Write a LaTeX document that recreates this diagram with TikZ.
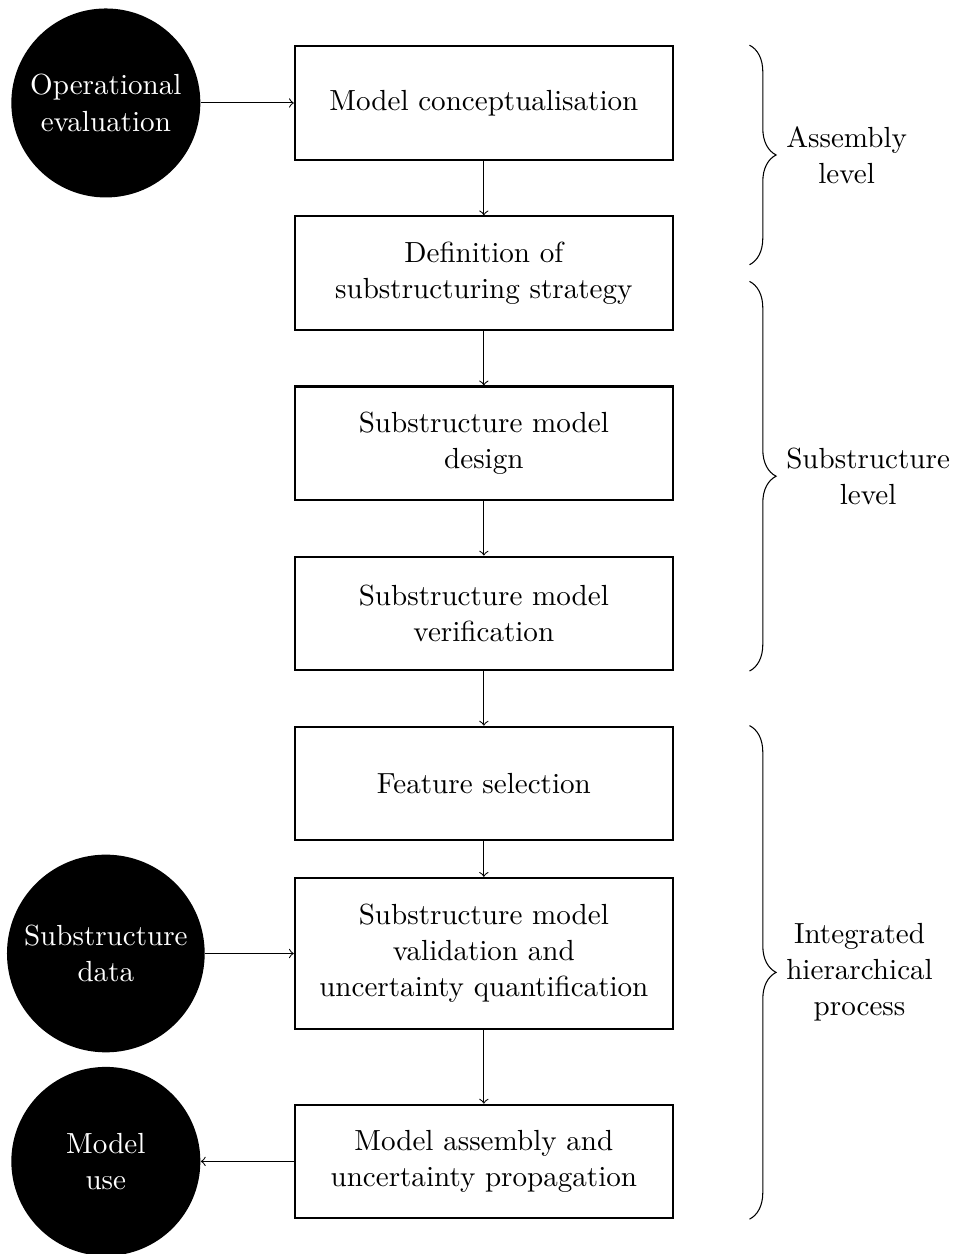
\documentclass[tikz,border=0pt,11pt]{standalone}
\usepackage{tikz}
\usetikzlibrary{arrows,shapes,positioning,decorations.pathreplacing}

\begin{document}
\begin{tikzpicture}[
        on grid,
        node distance=2.25cm,
        stage/.style={draw, thick, rectangle, align=center, minimum width=5cm, minimum height=1.5cm},
        source/.style={circle, fill=black, text=white, align=center, minimum size=2.5cm},
        bracket/.style={decorate, decoration={brace, amplitude=10pt}}
    ]
    \useasboundingbox (-6.40,1.362) rectangle (6.23,-15.225);

    % Nodes
    \node[stage] (conc) {Model conceptualisation};
    \node[stage] (strat)[below=of conc] {Definition of \\ substructuring strategy};
    \node[stage] (design)[below=of strat] {Substructure model \\ design};
    \node[stage] (verif)[below=of design] {Substructure model \\ verification};
    \node[stage] (feat)[below=of verif] {Feature selection};
    \node[stage, minimum height=2cm] (valid)[below=of feat] {Substructure model \\ validation and \\ uncertainty quantification};
    \node[stage] (assem)[below=2.75cm of valid] {Model assembly and \\ uncertainty propagation};

    \node[source] (opeval)[left=5cm of conc] {Operational \\ evaluation};
    \node[source] (subdata)[left=5cm of valid] {Substructure \\ data};
    \node[source] (use)[left=5cm of assem] {Model \\ use};

    % Edges
    \draw[->] (conc) -- (strat);
    \draw[->] (strat) -- (design);
    \draw[->] (design) -- (verif);
    \draw[->] (verif) -- (feat);
    \draw[->] (feat) -- (valid);
    \draw[->] (valid) -- (assem);
    \draw[->] (opeval) -- (conc);
    \draw[->] (subdata) -- (valid);
    \draw[->] (assem) -- (use);

    % Braces
    \draw[bracket] ([xshift=1cm]conc.north east) -- ([xshift=1cm, yshift=0.11cm]strat.east)
        node[midway, right=10pt, align=center] {Assembly \\ level};
    \draw[bracket] ([xshift=1cm, yshift=-0.11cm]strat.east) -- ([xshift=1cm]verif.south east)
        node[midway, right=10pt, align=center] {Substructure \\ level};
    \draw[bracket] ([xshift=1cm]feat.north east) -- ([xshift=1cm]assem.south east)
        node[midway, right=10pt, align=center] {Integrated \\ hierarchical \\ process};

\end{tikzpicture}
\end{document}
